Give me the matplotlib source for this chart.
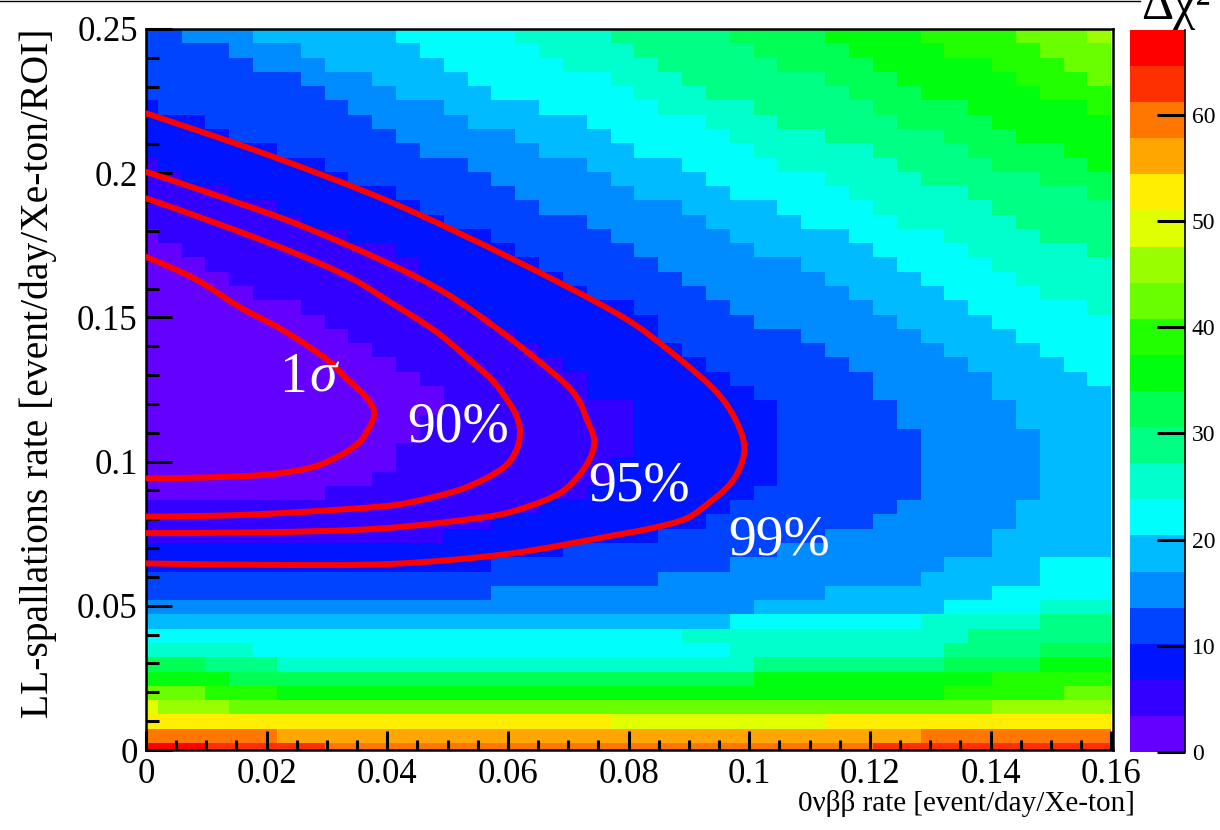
import numpy as np
import matplotlib
matplotlib.use("Agg")
import matplotlib.pyplot as plt
from matplotlib.colors import ListedColormap, BoundaryNorm
from matplotlib.ticker import MultipleLocator, FuncFormatter
from matplotlib.path import Path
from matplotlib.patches import PathPatch
from matplotlib.lines import Line2D

plt.rcParams['font.family'] = ['Liberation Serif', 'DejaVu Serif']

# ---------------------------------------------------------------------------
# Scan binning: 41 bins in 0vbb rate, 51 bins in LL-spallation rate
# ---------------------------------------------------------------------------
x_edges = np.linspace(-0.002, 0.16, 42)
y_edges = np.linspace(-0.0025, 0.25, 52)

N_LEVELS = 20
DCHI2_MAX = 68.0
palette_ticks = [0, 10, 20, 30, 40, 50, 60]

# Colour level of each cell, one row per spallation-rate bin (bottom -> top),
# written as (level, number of consecutive x bins)
level_runs = [
    [(19, 3), (18, 5), (17, 23), (18, 10)],
    [(17, 6), (16, 27), (17, 8)],
    [(15, 20), (14, 9), (15, 12)],
    [(14, 1), (13, 3), (12, 32), (13, 5)],
    [(12, 3), (11, 3), (10, 28), (11, 5), (12, 2)],
    [(10, 4), (9, 22), (10, 10), (11, 5)],
    [(9, 3), (8, 3), (7, 20), (8, 8), (9, 4), (10, 3)],
    [(7, 5), (6, 20), (7, 9), (8, 4), (9, 3)],
    [(6, 23), (7, 12), (8, 6)],
    [(5, 25), (6, 8), (7, 5), (8, 3)],
    [(4, 26), (5, 8), (6, 4), (7, 3)],
    [(3, 15), (4, 14), (5, 7), (6, 5)],
    [(3, 22), (4, 11), (5, 5), (6, 3)],
    [(2, 15), (3, 10), (4, 9), (5, 4), (6, 3)],
    [(2, 18), (3, 9), (4, 9), (5, 5)],
    [(1, 13), (2, 9), (3, 7), (4, 7), (5, 5)],
    [(1, 15), (2, 9), (3, 7), (4, 6), (5, 4)],
    [(1, 17), (2, 8), (3, 7), (4, 5), (5, 4)],
    [(0, 8), (1, 11), (2, 7), (3, 7), (4, 5), (5, 3)],
    [(0, 10), (1, 10), (2, 7), (3, 6), (4, 5), (5, 3)],
    [(0, 11), (1, 9), (2, 7), (3, 6), (4, 5), (5, 3)],
    [(0, 11), (1, 10), (2, 6), (3, 6), (4, 5), (5, 3)],
    [(0, 12), (1, 9), (2, 6), (3, 6), (4, 5), (5, 3)],
    [(0, 12), (1, 9), (2, 6), (3, 5), (4, 5), (5, 4)],
    [(0, 13), (1, 8), (2, 6), (3, 5), (4, 5), (5, 4)],
    [(0, 13), (1, 6), (2, 7), (3, 5), (4, 5), (5, 5)],
    [(0, 12), (1, 7), (2, 6), (3, 6), (4, 5), (5, 4), (6, 1)],
    [(0, 11), (1, 7), (2, 6), (3, 6), (4, 5), (5, 4), (6, 2)],
    [(0, 10), (1, 7), (2, 6), (3, 6), (4, 5), (5, 4), (6, 3)],
    [(0, 9), (1, 7), (2, 6), (3, 6), (4, 5), (5, 4), (6, 4)],
    [(0, 8), (1, 7), (2, 7), (3, 4), (4, 6), (5, 4), (6, 5)],
    [(0, 7), (1, 7), (2, 7), (3, 4), (4, 6), (5, 4), (6, 5), (7, 1)],
    [(0, 5), (1, 8), (2, 6), (3, 5), (4, 6), (5, 4), (6, 4), (7, 3)],
    [(0, 4), (1, 8), (2, 6), (3, 5), (4, 6), (5, 4), (6, 4), (7, 4)],
    [(0, 3), (1, 9), (2, 5), (3, 5), (4, 6), (5, 4), (6, 4), (7, 5)],
    [(0, 2), (1, 9), (2, 5), (3, 5), (4, 5), (5, 5), (6, 4), (7, 5), (8, 1)],
    [(0, 1), (1, 8), (2, 6), (3, 5), (4, 5), (5, 5), (6, 4), (7, 4), (8, 3)],
    [(1, 7), (2, 6), (3, 6), (4, 5), (5, 4), (6, 4), (7, 5), (8, 4)],
    [(1, 6), (2, 6), (3, 5), (4, 6), (5, 4), (6, 4), (7, 5), (8, 5)],
    [(1, 4), (2, 7), (3, 5), (4, 5), (5, 4), (6, 5), (7, 5), (8, 5), (9, 1)],
    [(1, 2), (2, 7), (3, 6), (4, 5), (5, 4), (6, 5), (7, 4), (8, 5), (9, 3)],
    [(1, 1), (2, 7), (3, 6), (4, 5), (5, 4), (6, 4), (7, 5), (8, 4), (9, 4), (10, 1)],
    [(2, 6), (3, 6), (4, 5), (5, 4), (6, 5), (7, 5), (8, 4), (9, 4), (10, 2)],
    [(2, 4), (3, 7), (4, 5), (5, 4), (6, 5), (7, 4), (8, 5), (9, 3), (10, 4)],
    [(2, 3), (3, 7), (4, 4), (5, 5), (6, 5), (7, 3), (8, 5), (9, 4), (10, 5)],
    [(2, 1), (3, 8), (4, 4), (5, 4), (6, 5), (7, 4), (8, 5), (9, 4), (10, 5), (11, 1)],
    [(3, 8), (4, 3), (5, 4), (6, 6), (7, 3), (8, 6), (9, 3), (10, 5), (11, 3)],
    [(3, 7), (4, 3), (5, 4), (6, 6), (7, 3), (8, 6), (9, 3), (10, 5), (11, 3), (12, 1)],
    [(3, 5), (4, 3), (5, 5), (6, 5), (7, 4), (8, 5), (9, 4), (10, 5), (11, 3), (12, 2)],
    [(3, 4), (4, 3), (5, 5), (6, 5), (7, 4), (8, 5), (9, 4), (10, 4), (11, 4), (12, 3)],
    [(3, 2), (4, 3), (5, 6), (6, 5), (7, 4), (8, 5), (9, 4), (10, 4), (11, 4), (12, 3), (13, 1)],
]

# Confidence contours (0vbb rate, LL-spallation rate)
sigma1_x = [0.0, 0.008, 0.0156, 0.0215, 0.0266, 0.0305, 0.0332, 0.0355, 0.0368,
            0.0377, 0.0378, 0.0372, 0.0355, 0.0325, 0.0275, 0.020, 0.010, 0.0]
sigma1_y = [0.171, 0.1635, 0.1535, 0.147, 0.1404, 0.1345, 0.1289, 0.1245, 0.1215,
            0.1185, 0.116, 0.1125, 0.107, 0.1025, 0.098, 0.0955, 0.0945, 0.0942]

cl90_x = [0.0, 0.0128, 0.0255, 0.0340, 0.0404, 0.0480, 0.0537, 0.0575, 0.0600, 0.0614,
          0.0620, 0.0614, 0.0590, 0.0526, 0.0443, 0.0388, 0.0255, 0.0128, 0.0]
cl90_y = [0.1913, 0.1818, 0.1716, 0.1636, 0.1554, 0.1452, 0.1352, 0.1280, 0.1210, 0.1160,
          0.1104, 0.1040, 0.0975, 0.0907, 0.0861, 0.0844, 0.0825, 0.0813, 0.0809]

cl95_x = [0.0, 0.0128, 0.0255, 0.0404, 0.0500, 0.0586, 0.0650, 0.0697, 0.0718, 0.0730,
          0.0743, 0.0730, 0.0689, 0.0620, 0.0553, 0.0388, 0.0200, 0.0]
cl95_y = [0.2005, 0.1915, 0.1820, 0.1685, 0.1580, 0.1455, 0.1350, 0.1266, 0.1210, 0.1150,
          0.1070, 0.0988, 0.0895, 0.0835, 0.0805, 0.0768, 0.0755, 0.0752]

cl99_x = [0.0, 0.0200, 0.0404, 0.0600, 0.0785, 0.0870, 0.0934, 0.0965, 0.0985, 0.0992,
          0.0985, 0.0967, 0.0935, 0.0896, 0.0840, 0.0780, 0.0600, 0.0404, 0.0200, 0.0]
cl99_y = [0.2208, 0.2065, 0.1901, 0.1710, 0.1508, 0.1380, 0.1266, 0.1190, 0.1110, 0.1045,
          0.0980, 0.0919, 0.0860, 0.0803, 0.0770, 0.0746, 0.0680, 0.0645, 0.0642, 0.0647]

contour_labels = ['90%', '95%', '99%']
label_x = [0.0517, 0.0818, 0.1050]
label_y = [0.1117, 0.0912, 0.0728]
sigma_label_x = 0.0272
sigma_label_y = 0.1290

# Rainbow palette (violet -> red), one colour per level
palette = ['#6300ff', '#3300ff', '#0014ff', '#0044ff', '#008bff', '#00bbff', '#00fffc',
           '#00ffcc', '#00ff85', '#00ff55', '#00ff0e', '#22ff00', '#69ff00', '#99ff00',
           '#e0ff00', '#ffee00', '#ffa700', '#ff7700', '#ff3000', '#ff0000']


def smooth_path(xs, ys):
    """Catmull-Rom curve through the given points, as cubic Bezier segments."""
    pts = np.column_stack([xs, ys]).astype(float)
    n = len(pts)
    verts = [pts[0]]
    codes = [Path.MOVETO]
    for i in range(n - 1):
        p0 = pts[max(i - 1, 0)]
        p1 = pts[i]
        p2 = pts[i + 1]
        p3 = pts[min(i + 2, n - 1)]
        verts += [p1 + (p2 - p0) / 6.0, p2 - (p3 - p1) / 6.0, p2]
        codes += [Path.CURVE4] * 3
    return Path(verts, codes)


# ---------------------------------------------------------------------------
n_x = len(x_edges) - 1
rows = []
for run in level_runs:
    row = np.repeat([lv for lv, n in run], [n for lv, n in run])
    if len(row) < n_x:
        row = np.concatenate([row, np.full(n_x - len(row), row[-1])])
    rows.append(row[:n_x])
levels = np.array(rows)
dchi2 = (levels + 0.5) * DCHI2_MAX / N_LEVELS

cmap = ListedColormap(palette)
bounds = np.linspace(0, DCHI2_MAX, N_LEVELS + 1)
norm = BoundaryNorm(bounds, cmap.N)

W, H = 1220, 830
fig = plt.figure(figsize=(W / 100, H / 100), dpi=100)
fig.patch.set_facecolor('white')

# thin rule along the top edge of the canvas
fig.add_artist(Line2D([0, 1140 / W], [1 - 1.5 / H, 1 - 1.5 / H], color='black', lw=1.0))

ax = fig.add_axes([146 / W, 1 - 750 / H, (1113 - 146) / W, (750 - 29) / H])
mesh = ax.pcolormesh(x_edges, y_edges, dchi2, cmap=cmap, norm=norm,
                     shading='flat', antialiased=False, linewidth=0)

for xs, ys in [(sigma1_x, sigma1_y), (cl90_x, cl90_y), (cl95_x, cl95_y), (cl99_x, cl99_y)]:
    ax.add_patch(PathPatch(smooth_path(xs, ys), fill=False, edgecolor='#ff0000',
                           lw=4.3, capstyle='round', joinstyle='round', zorder=3))

for txt, tx, ty in zip(contour_labels, label_x, label_y):
    ax.text(tx, ty, txt, color='white', fontsize=40, ha='center', va='center', zorder=4)
ax.text(sigma_label_x - 0.0005, sigma_label_y, '1', color='white', fontsize=40,
        ha='right', va='center', zorder=4)
ax.text(sigma_label_x - 0.0002, sigma_label_y, 'σ', color='white', fontsize=40,
        style='italic', ha='left', va='center', zorder=4)

ax.set_xlim(0, 0.1603)
ax.set_ylim(0, 0.25)

fmt = FuncFormatter(lambda v, pos: f"{v:.3g}")
ax.xaxis.set_major_locator(MultipleLocator(0.02))
ax.xaxis.set_minor_locator(MultipleLocator(0.005))
ax.yaxis.set_major_locator(MultipleLocator(0.05))
ax.yaxis.set_minor_locator(MultipleLocator(0.01))
ax.xaxis.set_major_formatter(fmt)
ax.yaxis.set_major_formatter(fmt)

ax.tick_params(which='both', direction='in', top=False, right=False,
               width=2.2, color='black', labelsize=25)
ax.tick_params(axis='x', which='major', length=14, pad=6)
ax.tick_params(axis='x', which='minor', length=7)
ax.tick_params(axis='y', which='major', length=19, pad=6)
ax.tick_params(axis='y', which='minor', length=9.5)
for sp in ax.spines.values():
    sp.set_linewidth(1.8)
    sp.set_color('black')

ax.set_xlabel('0νββ rate [event/day/Xe-ton]', fontsize=21, loc='right')
ax.xaxis.set_label_coords((1135 - 146) / (1113 - 146), -0.056)
ax.set_ylabel('LL-spallations rate [event/day/Xe-ton/ROI]', fontsize=28.5, loc='top')
ax.yaxis.set_label_coords((57 - 146) / (1113 - 146), 1.0)

# Palette axis: one box per colour level, scale on the right
cax = fig.add_axes([1130 / W, 1 - 752 / H, 55 / W, (752 - 30) / H])
level_mid = (bounds[:-1] + bounds[1:]) / 2
cax.pcolormesh([0, 1], bounds, level_mid.reshape(-1, 1), cmap=cmap, norm=norm,
               shading='flat', antialiased=False, linewidth=0)
cax.set_xlim(0, 1)
cax.set_ylim(0, DCHI2_MAX)
cax.set_xticks([])
cax.yaxis.tick_right()
cax.set_yticks(palette_ticks)
cax.tick_params(axis='y', direction='in', length=20, width=2.2, color='black',
                labelsize=17, pad=5, right=True, left=False)
for name, sp in cax.spines.items():
    sp.set_visible(name == 'right')
cax.spines['right'].set_linewidth(1.2)

fig.text(1176 / W, 1 - 19 / H, 'Δχ²', fontsize=36, ha='center', va='baseline')

fig.savefig('out.png', dpi=100)
